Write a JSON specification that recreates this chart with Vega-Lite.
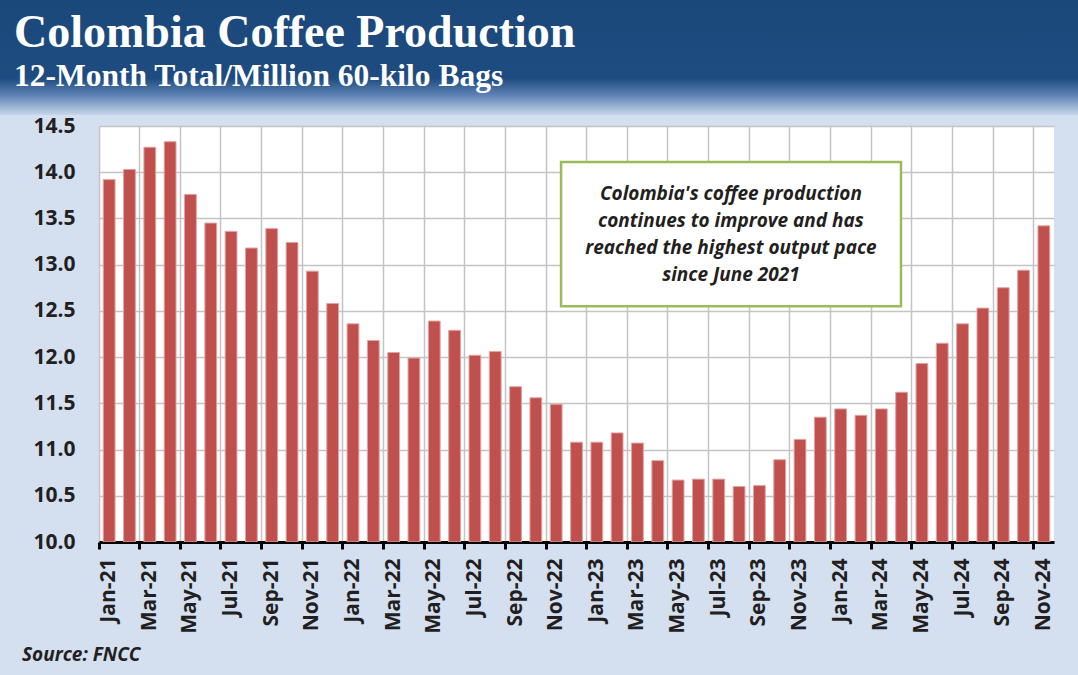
{
  "$schema": "https://vega.github.io/schema/vega-lite/v6.json",
  "padding": {"left": 0, "top": 0, "right": 0, "bottom": 10},
  "background": "#d4e0f0",
  "config": {"view": {"stroke": null}},
  "spacing": 0,
  "vconcat": [
    {
      "width": 1078,
      "height": 115,
      "view": {
        "stroke": null,
        "fill": {
          "gradient": "linear", "x1": 0, "y1": 0, "x2": 0, "y2": 1,
          "stops": [
            {"offset": 0, "color": "#1b487b"},
            {"offset": 0.68, "color": "#1e4c80"},
            {"offset": 0.82, "color": "#5a7fb2"},
            {"offset": 1, "color": "#c6d5ea"}
          ]
        }
      },
      "data": {"values": []},
      "mark": "rect",
      "encoding": {},
      "title": {
        "text": "Colombia Coffee Production",
        "subtitle": "12-Month Total/Million 60-kilo Bags",
        "orient": "bottom",
        "anchor": "start",
        "frame": "group",
        "offset": -104,
        "dx": 14,
        "font": "Liberation Serif",
        "fontSize": 46,
        "fontWeight": "bold",
        "color": "#ffffff",
        "subtitleFont": "Liberation Serif",
        "subtitleFontSize": 31.5,
        "subtitleFontWeight": "bold",
        "subtitleColor": "#ffffff",
        "subtitlePadding": 4
      }
    },
    {
      "spacing": 0,
      "hconcat": [
        {
          "width": 21,
          "height": 10,
          "view": {"fill": null, "stroke": null},
          "data": {"values": []},
          "mark": "rect",
          "encoding": {}
        },
        {
          "width": 955,
          "height": 416,
          "view": {"fill": "#ffffff", "stroke": null},
          "title": {
            "text": "Source: FNCC",
            "orient": "bottom",
            "anchor": "start",
            "frame": "bounds",
            "offset": 13,
            "dx": -11,
            "font": "Open Sans",
            "fontSize": 19,
            "fontStyle": "italic",
            "fontWeight": "bold",
            "color": "#231f20"
          },
          "resolve": {"scale": {"x": "independent"}},
          "layer": [
            {
              "data": {
                "values": [
                  {"month": "Jan-21", "value": 13.92},
                  {"month": "Feb-21", "value": 14.03},
                  {"month": "Mar-21", "value": 14.27},
                  {"month": "Apr-21", "value": 14.33},
                  {"month": "May-21", "value": 13.76},
                  {"month": "Jun-21", "value": 13.45},
                  {"month": "Jul-21", "value": 13.36},
                  {"month": "Aug-21", "value": 13.18},
                  {"month": "Sep-21", "value": 13.39},
                  {"month": "Oct-21", "value": 13.24},
                  {"month": "Nov-21", "value": 12.93},
                  {"month": "Dec-21", "value": 12.58},
                  {"month": "Jan-22", "value": 12.36},
                  {"month": "Feb-22", "value": 12.18},
                  {"month": "Mar-22", "value": 12.05},
                  {"month": "Apr-22", "value": 11.99},
                  {"month": "May-22", "value": 12.39},
                  {"month": "Jun-22", "value": 12.29},
                  {"month": "Jul-22", "value": 12.02},
                  {"month": "Aug-22", "value": 12.06},
                  {"month": "Sep-22", "value": 11.68},
                  {"month": "Oct-22", "value": 11.56},
                  {"month": "Nov-22", "value": 11.49},
                  {"month": "Dec-22", "value": 11.08},
                  {"month": "Jan-23", "value": 11.08},
                  {"month": "Feb-23", "value": 11.18},
                  {"month": "Mar-23", "value": 11.07},
                  {"month": "Apr-23", "value": 10.88},
                  {"month": "May-23", "value": 10.67},
                  {"month": "Jun-23", "value": 10.68},
                  {"month": "Jul-23", "value": 10.68},
                  {"month": "Aug-23", "value": 10.60},
                  {"month": "Sep-23", "value": 10.61},
                  {"month": "Oct-23", "value": 10.89},
                  {"month": "Nov-23", "value": 11.11},
                  {"month": "Dec-23", "value": 11.35},
                  {"month": "Jan-24", "value": 11.44},
                  {"month": "Feb-24", "value": 11.37},
                  {"month": "Mar-24", "value": 11.44},
                  {"month": "Apr-24", "value": 11.62},
                  {"month": "May-24", "value": 11.93},
                  {"month": "Jun-24", "value": 12.15},
                  {"month": "Jul-24", "value": 12.36},
                  {"month": "Aug-24", "value": 12.53},
                  {"month": "Sep-24", "value": 12.75},
                  {"month": "Oct-24", "value": 12.94},
                  {"month": "Nov-24", "value": 13.42}
                ]
              },
              "mark": {"type": "bar", "color": "#c0504d", "stroke": "#e2a3a1", "strokeWidth": 1, "clip": true},
              "encoding": {
                "x": {
                  "field": "month",
                  "type": "ordinal",
                  "sort": null,
                  "scale": {"paddingInner": 0.42, "paddingOuter": 0.21},
                  "axis": {
                    "title": null,
                    "values": ["Jan-21","Mar-21","May-21","Jul-21","Sep-21","Nov-21","Jan-22","Mar-22","May-22","Jul-22","Sep-22","Nov-22","Jan-23","Mar-23","May-23","Jul-23","Sep-23","Nov-23","Jan-24","Mar-24","May-24","Jul-24","Sep-24","Nov-24"],
                    "bandPosition": -0.362,
                    "labelAngle": 270,
                    "labelFont": "Open Sans",
                    "labelFontSize": 21,
                    "labelFontWeight": "bold",
                    "labelColor": "#231f20",
                    "labelPadding": 9,
                    "tickColor": "#000000",
                    "tickWidth": 3,
                    "tickSize": 7,
                    "domainColor": "#000000",
                    "domainWidth": 3,
                    "grid": true,
                    "gridColor": "#c4c4c4",
                    "gridWidth": 1.5
                  }
                },
                "y": {
                  "field": "value",
                  "type": "quantitative",
                  "scale": {"domain": [10, 14.5], "nice": false, "zero": false},
                  "axis": {
                    "title": null,
                    "values": [10, 10.5, 11, 11.5, 12, 12.5, 13, 13.5, 14, 14.5],
                    "format": ".1f",
                    "domain": false,
                    "ticks": false,
                    "labelPadding": 24,
                    "labelFont": "Open Sans",
                    "labelFontSize": 21,
                    "labelFontWeight": "bold",
                    "labelColor": "#231f20",
                    "gridColor": "#c4c4c4",
                    "gridWidth": 1.5
                  }
                },
                "y2": {"datum": 10}
              }
            },
            {
              "data": {"values": [{}]},
              "mark": {"type": "rect", "fill": "#6f6f6f", "opacity": 0.45, "xOffset": 4, "yOffset": 4},
              "encoding": {
                "x": {"datum": 22.74, "type": "quantitative", "scale": {"domain": [0, 47]}, "axis": null},
                "x2": {"datum": 39.47},
                "y": {"datum": 14.11, "type": "quantitative"},
                "y2": {"datum": 12.55}
              }
            },
            {
              "data": {"values": [{}]},
              "mark": {"type": "rect", "fill": "#ffffff", "stroke": "#9bbb59", "strokeWidth": 2.5},
              "encoding": {
                "x": {"datum": 22.74, "type": "quantitative", "scale": {"domain": [0, 47]}, "axis": null},
                "x2": {"datum": 39.47},
                "y": {"datum": 14.11, "type": "quantitative"},
                "y2": {"datum": 12.55}
              }
            },
            {
              "data": {"values": [{}]},
              "mark": {
                "type": "text",
                "font": "Open Sans",
                "fontSize": 19,
                "fontStyle": "italic",
                "fontWeight": "bold",
                "color": "#231f20",
                "align": "center",
                "baseline": "middle",
                "lineHeight": 27
              },
              "encoding": {
                "x": {"datum": 31.1, "type": "quantitative", "scale": {"domain": [0, 47]}, "axis": null},
                "y": {"datum": 13.76, "type": "quantitative"},
                "text": {"value": ["Colombia's coffee production", "continues to improve and has", "reached the highest output pace", "since June 2021"]}
              }
            }
          ]
        }
      ]
    }
  ]
}
